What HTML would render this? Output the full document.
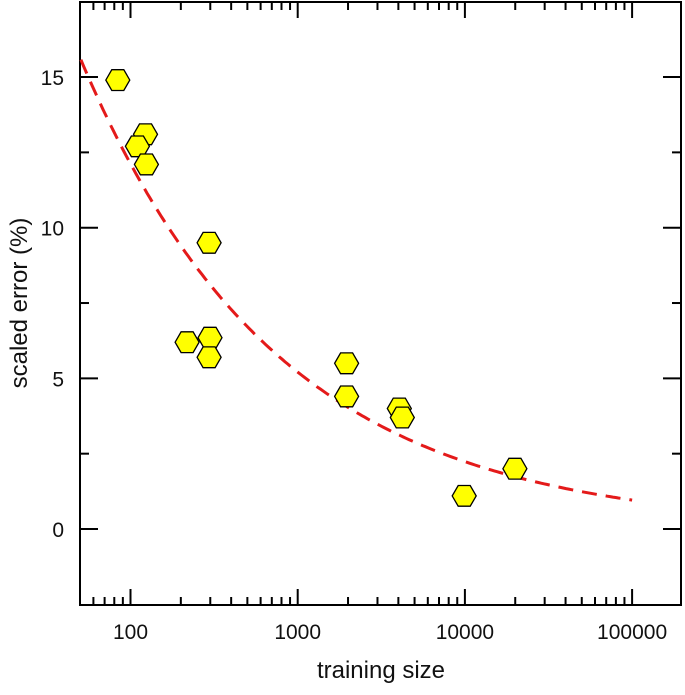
<!DOCTYPE html>
<html><head><meta charset="utf-8"><style>
html,body{margin:0;padding:0;background:#fff;}
svg text{font-family:"Liberation Sans",sans-serif;fill:#111;}
</style></head><body>
<svg id="chart" width="685" height="690" viewBox="0 0 685 690" xmlns="http://www.w3.org/2000/svg">
<g id="marks"></g>
</svg>
<script>
const xValues=[84,123,110,124.5,295,218,299,295,1960,1960,4050,4220,9900,19900];
const yValues=[14.9,13.1,12.7,12.1,9.5,6.2,6.35,5.7,5.5,4.4,4.0,3.7,1.1,2.0];
const fitA=65.7, fitB=0.367;
const xTicks=[100,1000,10000,100000];
const xTickLabels=["100","1000","10000","100000"];
const yTicks=[0,5,10,15];
const yTickLabels=["0","5","10","15"];

const L=80,R=681,T=2,B=605;
const X=v=>130.5+(Math.log10(v)-2)*167.2;
const Y=v=>529-v*30.13;
const NS="http://www.w3.org/2000/svg";
const svg=document.getElementById('marks');
function mk(tag,attrs,parent){const e=document.createElementNS(NS,tag);for(const k in attrs)e.setAttribute(k,attrs[k]);(parent||svg).appendChild(e);return e;}

const frame=mk('rect',{x:L,y:T,width:R-L,height:B-T,fill:'none',stroke:'#000','stroke-width':2});



for(let d=1;d<=5;d++){
  for(let m=1;m<10;m++){
    const v=m*Math.pow(10,d);
    const px=X(v);
    if(px<L+1||px>R-1)continue;
    const len=(m===1)?16:8;
    const t1=mk('line',{x1:px,y1:B,x2:px,y2:B-len,stroke:'#000','stroke-width':2});
    
    
    const t2=mk('line',{x1:px,y1:T,x2:px,y2:T+len,stroke:'#000','stroke-width':2});
    
    
  }
}
xTicks.forEach((v,i)=>{
  const t=mk('text',{x:X(v),y:639,'text-anchor':'middle','font-size':21});
  t.textContent=xTickLabels[i];
  
  
});
for(let v=-2.5;v<=17.5;v+=2.5){
  const py=Y(v); if(py<T+1||py>B-1)continue;
  const major=(v%5===0);
  const len=major?18:9;
  const a=mk('line',{x1:L,y1:py,x2:L+len,y2:py,stroke:'#000','stroke-width':2});
  
  
  const b=mk('line',{x1:R,y1:py,x2:R-len,y2:py,stroke:'#000','stroke-width':2});
  
  
}
yTicks.forEach((v,i)=>{
  const t=mk('text',{x:64,y:Y(v)+8,'text-anchor':'end','font-size':21});
  t.textContent=yTickLabels[i];
  
  
});
const xt=mk('text',{x:381,y:678,'text-anchor':'middle','font-size':24});
xt.textContent='training size';


const yt=mk('text',{x:0,y:0,'text-anchor':'middle','font-size':24,transform:'translate(27,303) rotate(-90)'});
yt.textContent='scaled error (%)';



let d='';
for(let i=0;i<=200;i++){
  const lv=Math.log10(50.5)+i*(5-Math.log10(50.5))/200;
  const v=Math.pow(10,lv);
  d+=(i?'L':'M')+X(v).toFixed(1)+','+Y(fitA*Math.pow(v,-fitB)).toFixed(1);
}
const fit=mk('path',{d:d,fill:'none',stroke:'#e41a1a','stroke-width':3,'stroke-dasharray':'15,9'});



xValues.forEach((xv,i)=>{
  const cx=X(xv),cy=Y(yValues[i]),r=12;
  let p='';
  for(let k=0;k<6;k++){const a=k*Math.PI/3;p+=(cx+r*Math.cos(a)).toFixed(1)+','+(cy+r*Math.sin(a)).toFixed(1)+' ';}
  const h=mk('polygon',{points:p,fill:'#ffff00',stroke:'#000','stroke-width':1.3});
  
  
});
</script>
</body></html>
